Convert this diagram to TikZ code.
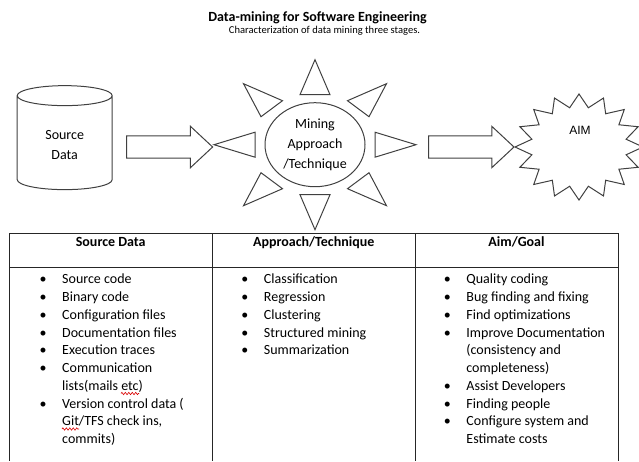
\documentclass[tikz,border=0pt]{standalone}
\usepackage{fontspec}
\setmainfont{Carlito}
\newfontfamily\aimfont{Liberation Sans}
\usetikzlibrary{shapes.geometric,shapes.arrows,decorations.pathmorphing}
\newcommand{\bitem}{\makebox[17pt][l]{\textbullet}}
\newcommand{\bcont}{\hspace*{17pt}}
\begin{document}
\begin{tikzpicture}[x=0.75pt, y=-0.75pt,
    every node/.style={font=\fontsize{10.5}{13.3}\selectfont},
    outline/.style={draw=black!75, line width=0.75pt},
    blockarrow/.style={outline, single arrow, inner xsep=0pt, inner ysep=7.9pt,
      single arrow head extend=7.2pt, single arrow tip angle=86},
    ray/.style={outline, line join=miter},
    grid/.style={draw=black!85, line width=0.75pt},
    colhead/.style={anchor=base, font=\fontsize{10.5}{13.3}\selectfont\bfseries},
    colbox/.style={anchor=north west, align=left, inner sep=0pt},
    spellmark/.style={draw=red!85!black, line width=0.45pt, decorate,
      decoration={zigzag, amplitude=0.9, segment length=2.6}}]
  \useasboundingbox (0,0) rectangle (639,461);
  % heading
  \node[font=\fontsize{10.5}{12}\selectfont\bfseries] (title) at (317.5,17.7) {Data-mining for Software Engineering};
  \node[font=\fontsize{7.9}{9}\selectfont] (subtitle) at (324.5,31) {Characterization of data mining three stages.};
  % the three stages
  \node[outline, cylinder, shape border rotate=90, aspect=0.42, minimum width=71.25pt,
    minimum height=78pt, align=center, font=\fontsize{10.5}{14.5}\selectfont] (src) at (64.7,145) {Source\\Data};
  \node[outline, ellipse, minimum width=75pt, minimum height=63pt, inner sep=0pt,
    align=center, font=\fontsize{10.5}{15}\selectfont] (sun) at (315,144.7) {Mining\\Approach\\/Technique};
  \coordinate (aimc) at (579,147);
  \draw[outline, shift={(aimc)}] (0:64 and 53)
    \foreach \i in {1,...,16} { -- (\i*22.5-11.25:48 and 40) -- (\i*22.5:64 and 53) } -- cycle;
  \node[font=\aimfont\fontsize{9}{11}\selectfont] (aim) at (580,130) {AIM};
  \node[blockarrow, minimum height=64.5pt] (arr1) at (163.7,147) {};
  \node[blockarrow, minimum height=64pt] (arr2) at (465.4,147) {};
  % rays round the sun
  \begin{scope}[shift={(sun.center)}]
    \foreach \s in {1,-1} {
      \draw[ray] (-15,\s*50) -- (0,\s*85) -- (15,\s*50) -- cycle;
      \draw[ray] (\s*60,-12.5) -- (\s*101,0) -- (\s*60,12.5) -- cycle;
      \foreach \t in {1,-1}
        \draw[ray] (\s*32.5,\t*44) -- (\s*71.5,\t*61) -- (\s*54,\t*28) -- cycle;
    }
  \end{scope}
  % table
  \draw[grid] (9,233) -- (618,233) (9,267) -- (618,267);
  \foreach \x in {9,212.5,415,618}
    \draw[grid] (\x,233) -- (\x,461);
  \node[colhead] (hsrc) at (110.7,246.5) {Source Data};
  \node[colhead] (happ) at (313.7,246.5) {Approach/Technique};
  \node[colhead] (haim) at (516.5,246.5) {Aim/Goal};
  \node[colbox] (lsrc) at (39.3,274) {\bitem Source code\\
    \bitem Binary code\\
    \bitem Configuration files\\
    \bitem Documentation files\\
    \bitem Execution traces\\
    \bitem Communication\\
    \bcont lists(mails etc)\\
    \bitem Version control data (\\
    \bcont Git/TFS check ins,\\
    \bcont commits)};
  \node[colbox] (lapp) at (241,274) {\bitem Classification\\
    \bitem Regression\\
    \bitem Clustering\\
    \bitem Structured mining\\
    \bitem Summarization};
  \node[colbox] (laim) at (443.5,274) {\bitem Quality coding\\
    \bitem Bug finding and fixing\\
    \bitem Find optimizations\\
    \bitem Improve Documentation\\
    \bcont (consistency and\\
    \bcont completeness)\\
    \bitem Assist Developers\\
    \bitem Finding people\\
    \bitem Configure system and\\
    \bcont Estimate costs};
  % spelling marks under "etc" and "Git"
  \draw[spellmark] (121,393.5) -- (139,393.5);
  \draw[spellmark] (62,429) -- (79,429);
\end{tikzpicture}
\end{document}
